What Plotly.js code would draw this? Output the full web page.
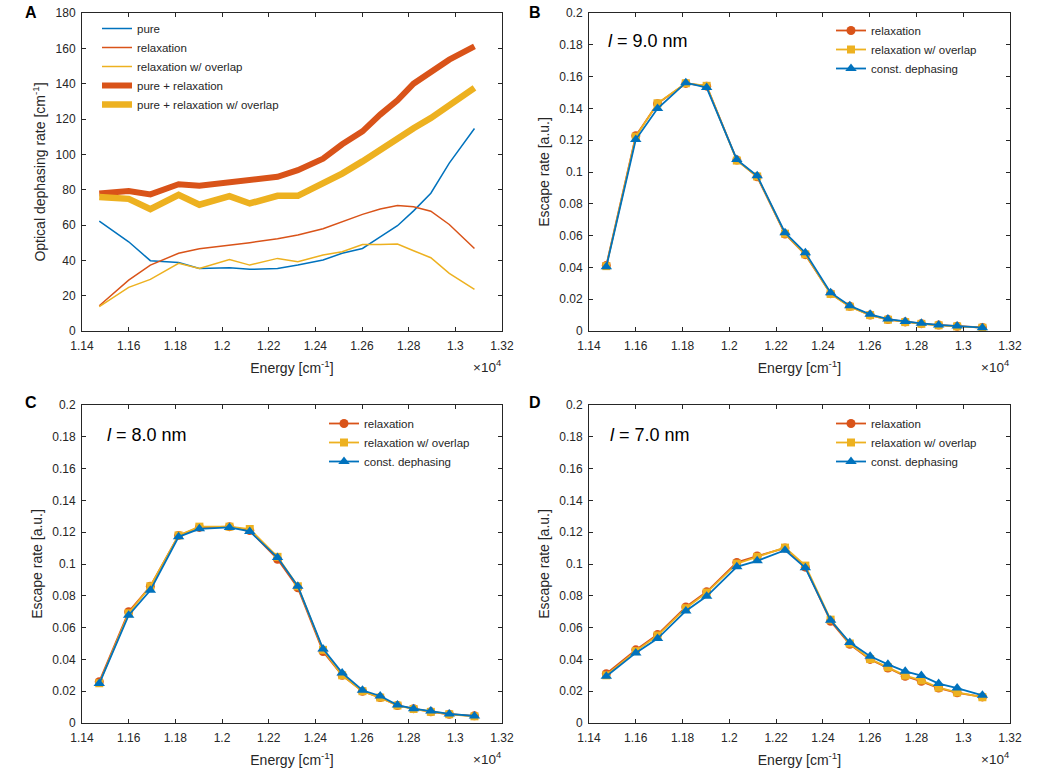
<!DOCTYPE html>
<html>
<head>
<meta charset="utf-8">
<script src="https://cdn.plot.ly/plotly-3.0.1.min.js"></script>
<style>
  html, body { margin: 0; padding: 0; background: #ffffff; }
  #chart { width: 1063px; height: 768px; }
</style>
</head>
<body>
<div id="chart"></div>
<script>
// Energy grid, in units of 10^4 cm^-1
const energy = [1.1474, 1.1600, 1.1693, 1.1814, 1.1903, 1.2032, 1.2119, 1.2238, 1.2325,
                1.2433, 1.2515, 1.2602, 1.2678, 1.2752, 1.2821, 1.2895, 1.2974, 1.3082];

// Panel A: optical dephasing rates [cm^-1]
const pureRate = [62.2, 50.5, 39.8, 38.8, 35.4, 35.8, 34.9, 35.4, 37.3,
                  40.2, 44.0, 46.7, 53.3, 59.6, 68.0, 78.0, 95.0, 114.6];
const relaxRate = [14.3, 28.8, 37.3, 44.0, 46.5, 48.4, 50.0, 52.2, 54.3,
                   57.9, 61.8, 66.0, 69.0, 71.0, 70.3, 67.8, 60.3, 46.7];
const relaxOverlapRate = [13.8, 24.7, 29.2, 38.3, 35.4, 40.5, 37.3, 41.1, 39.2,
                          43.0, 44.9, 49.0, 49.0, 49.2, 45.4, 41.5, 32.6, 23.6];
const pureRelaxRate = [77.8, 79.2, 77.3, 83.1, 82.2, 84.2, 85.0, 87.3, 91.0,
                       97.5, 105.7, 113.0, 122.5, 130.6, 140.0, 146.6, 153.6, 161.1];
const pureRelaxOverlapRate = [75.8, 74.8, 69.0, 77.1, 71.5, 76.3, 72.2, 76.5, 76.5,
                              83.6, 89.1, 96.0, 102.8, 109.5, 114.8, 120.5, 127.4, 137.6];

// Panels B-D: escape rates [a.u.]
const escB_relax   = [0.0412, 0.1228, 0.1430, 0.1557, 0.1540, 0.1075, 0.0970, 0.0610, 0.0480,
                      0.0235, 0.0155, 0.0100, 0.0072, 0.0057, 0.0046, 0.0037, 0.0030, 0.0022];
const escB_overlap = [0.0408, 0.1222, 0.1432, 0.1558, 0.1542, 0.1072, 0.0972, 0.0612, 0.0482,
                      0.0233, 0.0153, 0.0100, 0.0071, 0.0056, 0.0045, 0.0036, 0.0029, 0.0021];
const escB_const   = [0.0404, 0.1204, 0.1399, 0.1562, 0.1531, 0.1078, 0.0976, 0.0618, 0.0492,
                      0.0241, 0.0159, 0.0105, 0.0075, 0.0059, 0.0048, 0.0038, 0.0031, 0.0021];

const escC_relax   = [0.0260, 0.0700, 0.0860, 0.1180, 0.1230, 0.1235, 0.1210, 0.1030, 0.0850,
                      0.0450, 0.0300, 0.0200, 0.0160, 0.0110, 0.0090, 0.0070, 0.0055, 0.0045];
const escC_overlap = [0.0250, 0.0690, 0.0860, 0.1180, 0.1235, 0.1235, 0.1220, 0.1045, 0.0860,
                      0.0460, 0.0300, 0.0200, 0.0160, 0.0110, 0.0088, 0.0070, 0.0055, 0.0042];
const escC_const   = [0.0248, 0.0678, 0.0835, 0.1171, 0.1221, 0.1230, 0.1205, 0.1041, 0.0860,
                      0.0466, 0.0315, 0.0206, 0.0170, 0.0113, 0.0090, 0.0076, 0.0057, 0.0044];

const escD_relax   = [0.0310, 0.0460, 0.0556, 0.0730, 0.0825, 0.1010, 0.1050, 0.1100, 0.0980,
                      0.0640, 0.0495, 0.0400, 0.0346, 0.0294, 0.0262, 0.0220, 0.0190, 0.0164];
const escD_overlap = [0.0300, 0.0452, 0.0550, 0.0722, 0.0820, 0.1002, 0.1045, 0.1103, 0.0990,
                      0.0650, 0.0500, 0.0402, 0.0350, 0.0298, 0.0268, 0.0222, 0.0192, 0.0162];
const escD_const   = [0.0294, 0.0441, 0.0531, 0.0705, 0.0797, 0.0982, 0.1020, 0.1087, 0.0976,
                      0.0646, 0.0506, 0.0420, 0.0369, 0.0325, 0.0298, 0.0248, 0.0220, 0.0174];

// Tick labels
const xTickVals = [1.14, 1.16, 1.18, 1.20, 1.22, 1.24, 1.26, 1.28, 1.30, 1.32];
const xTickText = ['1.14', '1.16', '1.18', '1.2', '1.22', '1.24', '1.26', '1.28', '1.3', '1.32'];
const yATickVals = [0, 20, 40, 60, 80, 100, 120, 140, 160, 180];
const yATickText = ['0', '20', '40', '60', '80', '100', '120', '140', '160', '180'];
const yEscTickVals = [0, 0.02, 0.04, 0.06, 0.08, 0.10, 0.12, 0.14, 0.16, 0.18, 0.20];
const yEscTickText = ['0', '0.02', '0.04', '0.06', '0.08', '0.1', '0.12', '0.14', '0.16', '0.18', '0.2'];

const panelLabels = ['A', 'B', 'C', 'D'];
const lengthLabels = ['<i>l</i> = 9.0 nm', '<i>l</i> = 8.0 nm', '<i>l</i> = 7.0 nm'];
const escNames = ['relaxation', 'relaxation w/ overlap', 'const. dephasing'];

// Style
const BLUE = '#0072BD', RED = '#D95319', YELLOW = '#EDB120';
const AX = '#262626';
const FONT = 'Liberation Sans, Arial, Helvetica, sans-serif';

const W = 1063, H = 768;
const px = v => v / W;
const py = v => 1 - v / H;

const traces = [];
// Panel A
traces.push({x: energy, y: pureRate, name: 'pure', type: 'scatter', mode: 'lines',
  line: {color: BLUE, width: 1.5}, xaxis: 'x', yaxis: 'y', legend: 'legend'});
traces.push({x: energy, y: relaxRate, name: 'relaxation', type: 'scatter', mode: 'lines',
  line: {color: RED, width: 1.5}, xaxis: 'x', yaxis: 'y', legend: 'legend'});
traces.push({x: energy, y: relaxOverlapRate, name: 'relaxation w/ overlap', type: 'scatter', mode: 'lines',
  line: {color: YELLOW, width: 1.5}, xaxis: 'x', yaxis: 'y', legend: 'legend'});
traces.push({x: energy, y: pureRelaxRate, name: 'pure + relaxation', type: 'scatter', mode: 'lines',
  line: {color: RED, width: 6}, xaxis: 'x', yaxis: 'y', legend: 'legend'});
traces.push({x: energy, y: pureRelaxOverlapRate, name: 'pure + relaxation w/ overlap', type: 'scatter', mode: 'lines',
  line: {color: YELLOW, width: 6.5}, xaxis: 'x', yaxis: 'y', legend: 'legend'});

// Panels B-D
const escSets = [
  [escB_relax, escB_overlap, escB_const],
  [escC_relax, escC_overlap, escC_const],
  [escD_relax, escD_overlap, escD_const]
];
const escColors = [RED, YELLOW, BLUE];
const escSymbols = ['circle', 'square', 'triangle-up'];
const escSizes = [9, 8, 10];
escSets.forEach((set, p) => {
  const ax = p + 2;
  set.forEach((vals, k) => {
    traces.push({
      x: energy, y: vals, name: escNames[k], type: 'scatter', mode: 'lines+markers',
      line: {color: escColors[k], width: 1.8},
      marker: {color: escColors[k], symbol: escSymbols[k], size: escSizes[k], line: {width: 0}},
      xaxis: 'x' + ax, yaxis: 'y' + ax, legend: 'legend' + ax
    });
  });
});

// Axes geometry (pixels)
const boxes = [
  {l: 82, r: 502, t: 13, b: 331},
  {l: 589, r: 1010, t: 13, b: 331},
  {l: 82, r: 502, t: 405, b: 723},
  {l: 589, r: 1010, t: 405, b: 723}
];

function xAxis(box, anchor) {
  return {
    domain: [px(box.l), px(box.r)], anchor: anchor, range: [1.14, 1.32],
    tickmode: 'array', tickvals: xTickVals, ticktext: xTickText,
    ticks: 'inside', ticklen: 4, tickwidth: 1, tickcolor: AX,
    showline: true, linecolor: AX, linewidth: 1, mirror: 'ticks',
    showgrid: false, zeroline: false, ticklabelstandoff: 4,
    tickfont: {family: FONT, size: 12, color: AX},
    title: {text: 'Energy [cm<sup>-1</sup>]', font: {family: FONT, size: 14, color: AX}, standoff: 10}
  };
}
function yAxis(box, anchor, vals, text, range, title) {
  return {
    domain: [py(box.b), py(box.t)], anchor: anchor, range: range,
    tickmode: 'array', tickvals: vals, ticktext: text,
    ticks: 'inside', ticklen: 4, tickwidth: 1, tickcolor: AX,
    showline: true, linecolor: AX, linewidth: 1, mirror: 'ticks',
    showgrid: false, zeroline: false, ticklabelstandoff: 3,
    tickfont: {family: FONT, size: 12, color: AX},
    title: {text: title, font: {family: FONT, size: 14, color: AX}, standoff: 6}
  };
}

const legFont = {family: FONT, size: 11.5, color: AX};
const layout = {
  width: W, height: H,
  margin: {l: 0, r: 0, t: 0, b: 0},
  paper_bgcolor: '#ffffff', plot_bgcolor: '#ffffff',
  font: {family: FONT, color: AX},
  xaxis: xAxis(boxes[0], 'y'),
  yaxis: yAxis(boxes[0], 'x', yATickVals, yATickText, [0, 180], 'Optical dephasing rate [cm<sup>-1</sup>]'),
  xaxis2: xAxis(boxes[1], 'y2'),
  yaxis2: yAxis(boxes[1], 'x2', yEscTickVals, yEscTickText, [0, 0.2], 'Escape rate [a.u.]'),
  xaxis3: xAxis(boxes[2], 'y3'),
  yaxis3: yAxis(boxes[2], 'x3', yEscTickVals, yEscTickText, [0, 0.2], 'Escape rate [a.u.]'),
  xaxis4: xAxis(boxes[3], 'y4'),
  yaxis4: yAxis(boxes[3], 'x4', yEscTickVals, yEscTickText, [0, 0.2], 'Escape rate [a.u.]'),
  legend:  {x: px(97), y: py(14), xanchor: 'left', yanchor: 'top', bgcolor: 'rgba(0,0,0,0)',
            font: legFont, tracegroupgap: 0},
  legend2: {x: px(831), y: py(16), xanchor: 'left', yanchor: 'top', bgcolor: 'rgba(0,0,0,0)',
            font: legFont},
  legend3: {x: px(324), y: py(409), xanchor: 'left', yanchor: 'top', bgcolor: 'rgba(0,0,0,0)',
            font: legFont},
  legend4: {x: px(831), y: py(409), xanchor: 'left', yanchor: 'top', bgcolor: 'rgba(0,0,0,0)',
            font: legFont},
  annotations: [],
  showlegend: true
};

// Panel letters
const letterPos = [[31, 12], [535, 12], [31, 402], [535, 402]];
panelLabels.forEach((t, i) => {
  layout.annotations.push({
    text: '<b>' + t + '</b>', xref: 'paper', yref: 'paper',
    x: px(letterPos[i][0]), y: py(letterPos[i][1]), xanchor: 'center', yanchor: 'middle',
    showarrow: false, font: {family: FONT, size: 16, color: '#000000'}
  });
});
// Length labels
const lenPos = [[606, 41], [105, 435], [608, 435]];
lengthLabels.forEach((t, i) => {
  layout.annotations.push({
    text: t, xref: 'paper', yref: 'paper',
    x: px(lenPos[i][0]), y: py(lenPos[i][1]), xanchor: 'left', yanchor: 'middle',
    showarrow: false, font: {family: FONT, size: 18, color: '#000000'}
  });
});
// x10^4 exponent labels
boxes.forEach(box => {
  layout.annotations.push({
    text: '×10<sup>4</sup>', xref: 'paper', yref: 'paper',
    x: px(box.r + 1), y: py(box.b + 35), xanchor: 'right', yanchor: 'middle',
    showarrow: false, font: {family: FONT, size: 13.5, color: AX}
  });
});

Plotly.newPlot('chart', traces, layout, {displayModeBar: false, staticPlot: true});
</script>
</body>
</html>
